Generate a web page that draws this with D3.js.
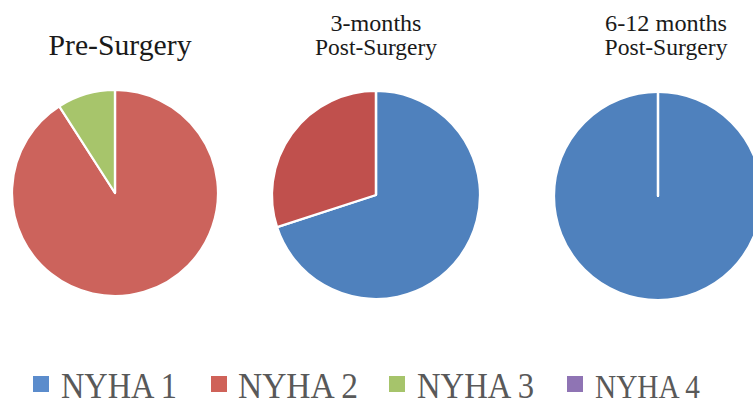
<!DOCTYPE html>
<html>
<head>
<meta charset="utf-8">
<script src="https://cdn.jsdelivr.net/npm/d3@7"></script>
<style>
  html, body { margin: 0; padding: 0; background: #ffffff; }
  svg { display: block; }
</style>
</head>
<body>
<svg id="chart" width="753" height="407"></svg>
<script>
// ---- Data ----
const categories = ["NYHA 1", "NYHA 2", "NYHA 3", "NYHA 4"];
const periods = ["Pre-Surgery", "3-months Post-Surgery", "6-12 months Post-Surgery"];
const preSurgery = [0, 10, 1, 0];
const threeMonths = [7, 3, 0, 0];
const sixToTwelveMonths = [10, 0, 0, 0];
const titleLines = [["Pre-Surgery"], ["3-months", "Post-Surgery"], ["6-12 months", "Post-Surgery"]];

// ---- Styles / layout ----
const legendColors = ["#5b8ccc", "#cf6259", "#a6c46b", "#8f74b4"];
const pieColors = [
  ["#4f81bd", "#cc635c", "#a7c56b", "#8064a2"],
  ["#4f81bd", "#c0504d", "#9bbb59", "#8064a2"],
  ["#4f81bd", "#c0504d", "#9bbb59", "#8064a2"]
];
const pieLayout = [
  { cx: 115, cy: 193, r: 103, tx: 120 },
  { cx: 376, cy: 195, r: 104, tx: 376 },
  { cx: 658, cy: 196, r: 104, tx: 666 }
];
const titleWidths = [[143], [91, 122], [122, 123]];
const fontFamily = "'Liberation Serif', 'DejaVu Serif', serif";

const svg = d3.select("#chart");
const seriesList = [preSurgery, threeMonths, sixToTwelveMonths];
const pie = d3.pie().sort(null).value(d => d);

seriesList.forEach((vals, i) => {
  const L = pieLayout[i];
  const color = d3.scaleOrdinal().domain(categories).range(pieColors[i]);
  const arc = d3.arc().innerRadius(0).outerRadius(L.r);
  const g = svg.append("g").attr("transform", `translate(${L.cx},${L.cy})`);
  const data = pie(vals).map((d, k) => Object.assign(d, { cat: categories[k] }));
  g.selectAll("path")
    .data(data)
    .join("path")
    .attr("d", arc)
    .attr("fill", d => color(d.cat))
    .attr("stroke", "#ffffff")
    .attr("stroke-width", 2.2)
    .attr("stroke-linejoin", "round");

  // Titles
  const lines = titleLines[i];
  const single = lines.length === 1;
  lines.forEach((line, j) => {
    svg.append("text")
      .attr("x", L.tx - titleWidths[i][j] / 2)
      .attr("y", single ? 55 : 31 + j * 24)
      .attr("font-family", fontFamily)
      .attr("font-size", single ? 29 : 24)
      .attr("fill", "#1a1a1a")
      .attr("textLength", titleWidths[i][j])
      .attr("lengthAdjust", "spacingAndGlyphs")
      .text(line);
  });
});

// ---- Legend ----
const legendX = [33, 211, 389, 567];
const legendTextX = [61, 238, 417, 595];
const legendTextW = [116, 120, 117, 105];
const legendFont = [35, 35, 35, 33];
const lg = svg.append("g");
categories.forEach((c, i) => {
  lg.append("rect")
    .attr("x", legendX[i]).attr("y", 376)
    .attr("width", 16).attr("height", 16)
    .attr("fill", legendColors[i]);
  lg.append("text")
    .attr("x", legendTextX[i]).attr("y", 398)
    .attr("font-family", fontFamily)
    .attr("font-size", legendFont[i])
    .attr("fill", "#595959")
    .attr("textLength", legendTextW[i])
    .attr("lengthAdjust", "spacingAndGlyphs")
    .text(c);
});
</script>
</body>
</html>
